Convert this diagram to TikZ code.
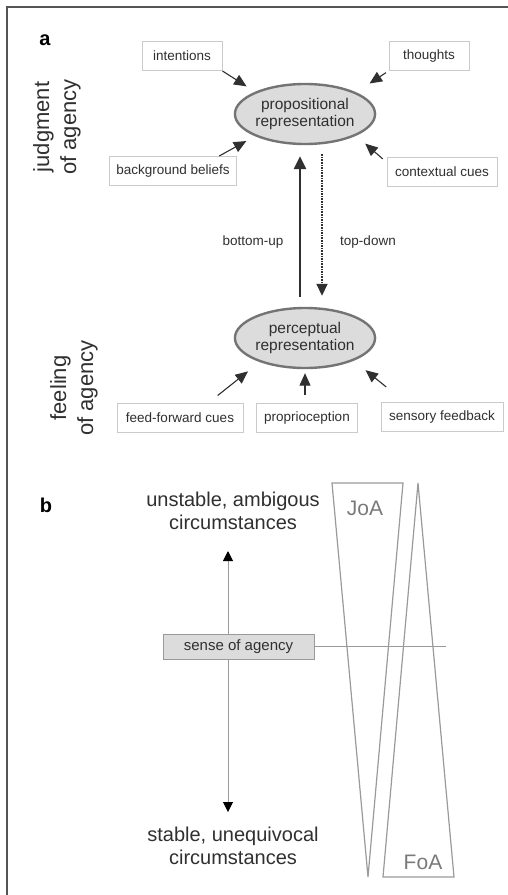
\documentclass[tikz,border=0pt]{standalone}
\usepackage{fontspec}
\setmainfont{Liberation Sans}
\usetikzlibrary{arrows.meta,shapes.geometric}
\definecolor{ink}{HTML}{303030}
\definecolor{frameline}{HTML}{555555}
\definecolor{boxline}{HTML}{CACACA}
\definecolor{ovalline}{HTML}{747474}
\definecolor{ovalfill}{HTML}{DCDCDC}
\definecolor{thinline}{HTML}{9A9A9A}
\definecolor{lighttext}{HTML}{7A7A7A}
\begin{document}
\begin{tikzpicture}[x=1pt,y=-1pt,
  every node/.style={text=ink},
  cue/.style={draw=boxline,line width=1pt,fill=white,minimum height=29pt,
    inner sep=0pt,font=\fontsize{13.5}{15}\selectfont},
  oval/.style={ellipse,draw=ovalline,line width=2.4pt,fill=ovalfill,
    minimum width=139pt,minimum height=60pt,inner sep=0pt,align=center,
    font=\fontsize{15.5}{17.5}\selectfont},
  feed/.style={line width=1.1pt,draw=ink,-{Triangle[length=12.5pt,width=11pt]}},
  sidelabel/.style={rotate=90,align=center,font=\fontsize{22}{27}\selectfont},
  panel/.style={font=\fontsize{20}{20}\bfseries\selectfont,text=black},
  flow/.style={align=center,font=\fontsize{13.5}{15}\selectfont},
  bigtext/.style={align=center,font=\fontsize{20}{23}\selectfont},
  axis/.style={line width=1pt,draw=thinline,-{Triangle[length=10pt,width=10pt]},
    arrows={[color=black]}},
  wedge/.style={line width=1.2pt,draw=thinline,line join=miter},
  wedgelabel/.style={text=lighttext,font=\fontsize{21}{21}\selectfont}]

\useasboundingbox (0,0) rectangle (508,895);
\fill[white] (0,0) rectangle (508,895);

% outer frame (left and top edges only)
\draw[frameline,line width=2.2pt] (7,895) -- (7,7) -- (508,7);

% ---------- panel a ----------
\node[panel] (pa) at (45,40) {a};
\node[sidelabel] (joa) at (57,127) {judgment\\of agency};
\node[sidelabel] (foa) at (74,388) {feeling\\of agency};

\node[oval] (prop) at (305,114) {propositional\\representation};
\node[oval] (perc) at (305,338) {perceptual\\representation};

\node[cue,minimum width=80pt]  (intent) at (182,56)  {intentions};
\node[cue,minimum width=80pt]  (thought) at (429,56) {thoughts};
\node[cue,minimum width=127pt] (belief) at (173,171) {background beliefs};
\node[cue,minimum width=110pt] (context) at (442,172) {contextual cues};

\node[cue,minimum width=126pt] (ffwd) at (180,418) {feed-forward cues};
\node[cue,minimum width=101pt] (proprio) at (307,418) {proprioception};
\node[cue,minimum width=122pt] (sensory) at (442,417) {sensory feedback};

% cues feeding the propositional representation
\draw[feed,shorten >=10pt] (intent.south east) -- (prop.156);
\draw[feed,shorten <=3pt,shorten >=16pt] (thought.south west) -- (prop.23);
\draw[feed,shorten >=10pt] (belief.18) -- (prop.204);
\draw[feed,shorten <=5pt,shorten >=12pt] (context.170) -- (prop.337);

% cues feeding the perceptual representation
\draw[feed,shorten <=12pt,shorten >=15pt] (ffwd.28) -- (perc.208);
\draw[feed,shorten <=8pt,shorten >=4pt] (proprio.north -| perc.south) -- (perc.south);
\draw[feed,shorten <=24pt,shorten >=15pt] (sensory.158) -- (perc.335);

% bottom-up and top-down links
\draw[line width=2.6pt,draw=ink,-{Triangle[length=13pt,width=12pt]},
      shorten <=10pt,shorten >=11pt]
  ([xshift=-5pt]perc.north) -- ([xshift=-5pt]prop.south);
\draw[line width=1.6pt,draw=ink,densely dotted,
      -{Triangle[length=12pt,width=11pt]},shorten <=9pt,shorten >=11pt]
  ([xshift=17pt]prop.south) -- ([xshift=17pt]perc.north);
\node[flow] (bu) at (253,242) {bottom-up};
\node[flow] (td) at (368,242) {top-down};

% ---------- panel b ----------
\node[panel] (pb) at (46,505) {b};
\node[bigtext] (unstable) at (233,511) {unstable, ambigous\\circumstances};
\node[bigtext] (stable) at (233,846) {stable, unequivocal\\circumstances};

\node[draw=thinline,line width=1pt,fill=ovalfill,minimum width=151pt,
      minimum height=25pt,inner sep=0pt,font=\fontsize{15}{15}\selectfont]
  (soa) at (238.5,646.5) {sense of agency};

\coordinate (uptip) at (228,551);
\coordinate (downtip) at (228,812);
\coordinate (lineend) at (446,646.5);

\draw[axis] (soa.north -| uptip) -- (uptip);
\draw[axis] (soa.south -| downtip) -- (downtip);
\draw[line width=1pt,draw=thinline] (soa.east) -- (lineend);

% judgment of agency wedge (wide at top) and feeling of agency wedge (wide at bottom)
\draw[wedge] (332,483) -- (403,483) -- (368,877) -- cycle;
\draw[wedge] (418,483) -- (454,877) -- (383,877) -- cycle;
\node[wedgelabel] (joalbl) at (365,508) {JoA};
\node[wedgelabel] (foalbl) at (423,862) {FoA};

\end{tikzpicture}
\end{document}
